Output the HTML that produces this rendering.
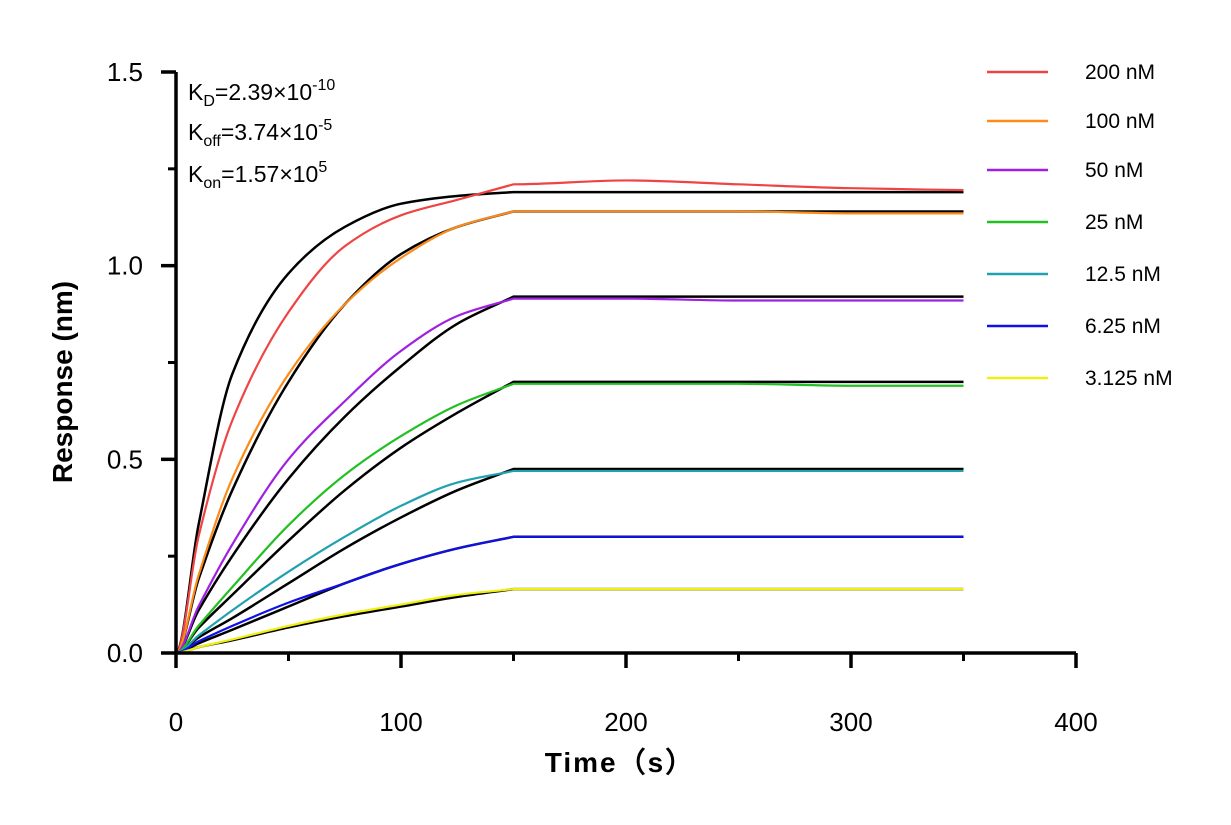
<!DOCTYPE html>
<html><head><meta charset="utf-8"><style>
body{margin:0;background:#fff;}
svg{display:block;font-family:"Liberation Sans",Arial,sans-serif;}
</style></head><body>
<svg id="chart" width="1231" height="825" viewBox="0 0 1231 825"></svg>
<script>
const times=[0,10,25,50,75,100,125,150,200,250,300,350];
const seriesNames=["200 nM","100 nM","50 nM","25 nM","12.5 nM","6.25 nM","3.125 nM"];
const seriesColors=["#ef4444","#fb8c1a","#a020e0","#22c022","#20a0b0","#1010e8","#f0f010"];
const dRed=[0,0.30,0.60,0.88,1.05,1.13,1.17,1.21,1.22,1.21,1.20,1.195];
const dOrange=[0,0.20,0.45,0.72,0.90,1.02,1.10,1.14,1.14,1.14,1.135,1.135];
const dPurple=[0,0.12,0.28,0.50,0.65,0.78,0.87,0.915,0.915,0.91,0.91,0.91];
const dGreen=[0,0.07,0.17,0.33,0.46,0.56,0.64,0.695,0.695,0.695,0.69,0.69];
const dTeal=[0,0.045,0.11,0.21,0.30,0.38,0.44,0.47,0.47,0.47,0.47,0.47];
const dBlue=[0,0.03,0.07,0.13,0.18,0.23,0.27,0.30,0.30,0.30,0.30,0.30];
const dYellow=[0,0.015,0.035,0.07,0.10,0.125,0.15,0.165,0.165,0.165,0.165,0.165];
const fRed=[0,0.33,0.72,0.98,1.10,1.16,1.18,1.19,1.19,1.19,1.19,1.19];
const fOrange=[0,0.19,0.42,0.70,0.90,1.03,1.10,1.14,1.14,1.14,1.14,1.14];
const fPurple=[0,0.11,0.25,0.45,0.61,0.74,0.85,0.92,0.92,0.92,0.92,0.92];
const fGreen=[0,0.065,0.15,0.29,0.42,0.53,0.62,0.70,0.70,0.70,0.70,0.70];
const fTeal=[0,0.04,0.09,0.18,0.27,0.35,0.42,0.475,0.475,0.475,0.475,0.475];
const fBlue=[0,0.025,0.06,0.12,0.18,0.23,0.27,0.30,0.30,0.30,0.30,0.30];
const fYellow=[0,0.015,0.033,0.066,0.095,0.12,0.145,0.165,0.165,0.165,0.165,0.165];
const xTicks=[0,100,200,300,400];
const yTicks=["0.0","0.5","1.0","1.5"];
const dataSeries=[dRed,dOrange,dPurple,dGreen,dTeal,dBlue,dYellow];
const fitSeries=[fRed,fOrange,fPurple,fGreen,fTeal,fBlue,fYellow];

const NS="http://www.w3.org/2000/svg";
const svg=document.getElementById("chart");
const X=t=>176+t*(1076-176)/400;
const Y=v=>653-v*(653-72)/1.5;
function el(tag,attrs,parent){const e=document.createElementNS(NS,tag);for(const k in attrs)e.setAttribute(k,attrs[k]);(parent||svg).appendChild(e);return e;}
function monoSeg(p){
  const n=p.length, dx=[], s=[], m=[];
  for(let i=0;i<n-1;i++){dx.push(p[i+1][0]-p[i][0]);s.push((p[i+1][1]-p[i][1])/dx[i]);}
  m[0]=s[0]; m[n-1]=s[n-2];
  for(let i=1;i<n-1;i++){m[i]=(s[i-1]*s[i]<=0)?0:2/(1/s[i-1]+1/s[i]);}
  if(n>2){m[0]=Math.max(0,1.5*s[0]-0.5*m[1]);}
  let d="";
  for(let i=0;i<n-1;i++){
    const h=dx[i];
    d+=" C"+(p[i][0]+h/3)+","+(p[i][1]+m[i]*h/3)+" "+(p[i+1][0]-h/3)+","+(p[i+1][1]-m[i+1]*h/3)+" "+p[i+1][0]+","+p[i+1][1];
  }
  return d;
}
function pathFor(vals){
  const p=times.map((t,i)=>[X(t),Y(vals[i])]);
  const k=times.indexOf(150);
  const a=p.slice(0,k+1), b=p.slice(k);
  return "M"+p[0][0]+","+p[0][1]+monoSeg(a)+monoSeg(b);
}
fitSeries.forEach((s,i)=>{
  const e=el("path",{d:pathFor(s),fill:"none",stroke:"#000","stroke-width":2.5});
  
  
});
dataSeries.forEach((s,i)=>{
  const e=el("path",{d:pathFor(s),fill:"none",stroke:seriesColors[i],"stroke-width":2.2});
  
  
});
const ax=el("path",{d:"M176,72 L176,653 L1076,653",fill:"none",stroke:"#000","stroke-width":3.5});


xTicks.forEach(t=>{
  el("line",{x1:X(t),x2:X(t),y1:653,y2:668,stroke:"#000","stroke-width":3.5});
  const tx=el("text",{x:X(t),y:731,"font-size":26,"text-anchor":"middle"});tx.textContent=t;
  
  
});
for(let t=50;t<400;t+=100)el("line",{x1:X(t),x2:X(t),y1:653,y2:661,stroke:"#000","stroke-width":3});
yTicks.forEach(v=>{
  const y=Y(parseFloat(v));
  el("line",{x1:161,x2:176,y1:y,y2:y,stroke:"#000","stroke-width":3.5});
  const tx=el("text",{x:143,y:y+9,"font-size":26,"text-anchor":"end"});tx.textContent=v;
  
  
});
for(let v=0.25;v<1.5;v+=0.5)el("line",{x1:168,x2:176,y1:Y(v),y2:Y(v),stroke:"#000","stroke-width":3});
const xt=el("text",{x:620,y:772,"font-size":28,"font-weight":"bold","text-anchor":"middle","letter-spacing":"2"});xt.textContent="Time（s）";


const yt=el("text",{x:0,y:0,"font-size":28,"font-weight":"bold","text-anchor":"middle",transform:"translate(72,382) rotate(-90)"});yt.textContent="Response (nm)";


const ann=el("g",{"font-size":23});


ann.innerHTML='<text x="188" y="100">K<tspan font-size="16" dy="6">D</tspan><tspan dy="-6">=2.39×10</tspan><tspan font-size="16" dy="-10">-10</tspan></text>'+
'<text x="188" y="140">K<tspan font-size="16" dy="6">off</tspan><tspan dy="-6">=3.74×10</tspan><tspan font-size="16" dy="-10">-5</tspan></text>'+
'<text x="188" y="182">K<tspan font-size="16" dy="6">on</tspan><tspan dy="-6">=1.57×10</tspan><tspan font-size="16" dy="-10">5</tspan></text>';
const legY=[72,121,170,222,274,326,378];
seriesNames.forEach((n,i)=>{
  const g=el("g",{});
  
  
  el("line",{x1:987,x2:1048,y1:legY[i],y2:legY[i],stroke:seriesColors[i],"stroke-width":2.5},g);
  const t=el("text",{x:1085,y:legY[i]+7,"font-size":21},g);t.textContent=n;
});
</script>
</body></html>
